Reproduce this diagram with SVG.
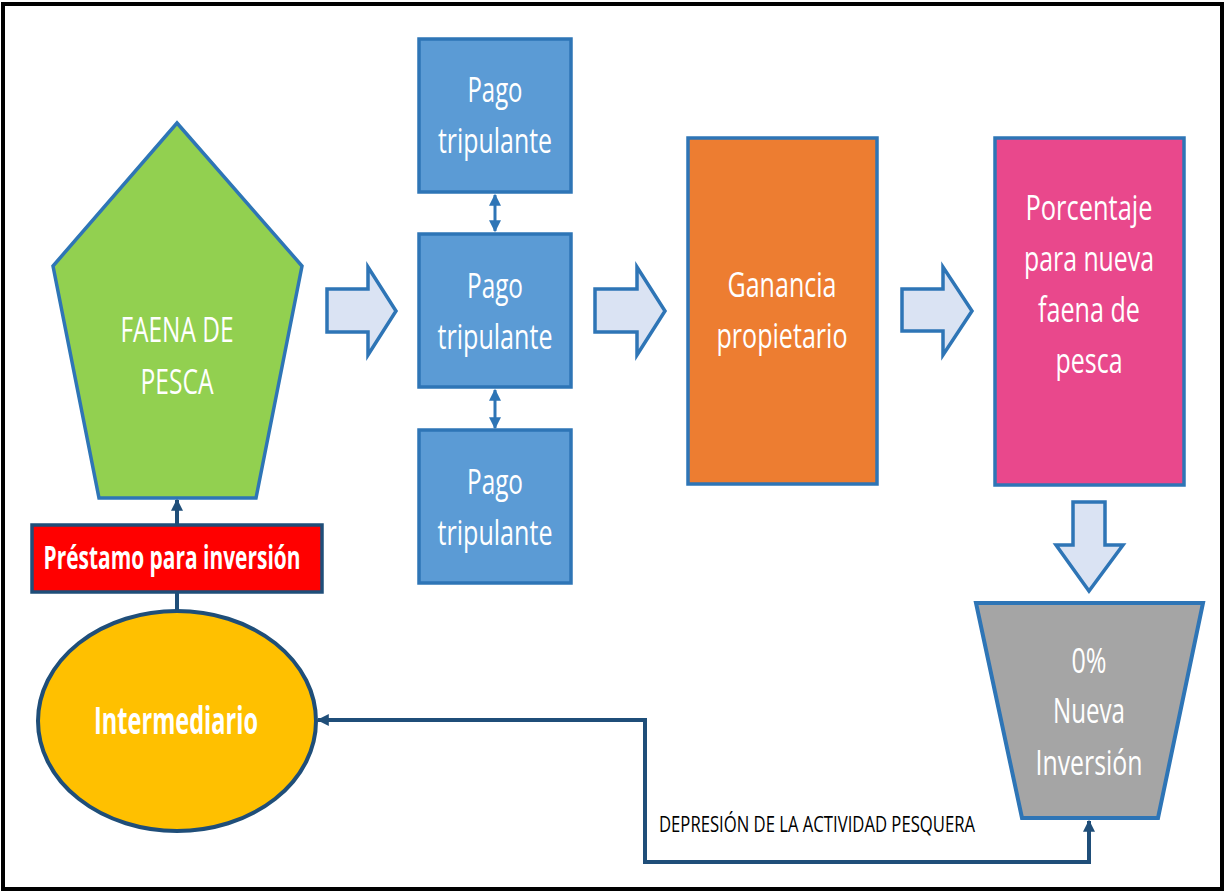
<svg xmlns="http://www.w3.org/2000/svg" width="1225" height="892" viewBox="0 0 1225 892">
<defs>
<style>
.box{stroke:#2E75B6;stroke-width:3.5}
.blk{fill:#DAE3F3;stroke:#2E75B6;stroke-width:3.5;stroke-linejoin:miter}
.t{font-family:"Open Sans","Liberation Sans",sans-serif;font-size:34px;fill:#FFFFFF;text-anchor:middle}
.tb{font-family:"Open Sans","Liberation Sans",sans-serif;font-weight:bold;fill:#FFFFFF;text-anchor:middle}
.lbl{font-family:"Open Sans","Liberation Sans",sans-serif;font-size:21px;fill:#000000;text-anchor:middle}
.con{fill:none;stroke:#1F4E79;stroke-width:4}
.dbl{fill:none;stroke:#2E75B6;stroke-width:3}
</style>
<marker id="ahDark" viewBox="0 0 10 10" refX="9" refY="5" markerWidth="13" markerHeight="12" markerUnits="userSpaceOnUse" orient="auto-start-reverse">
<path d="M0,0 L10,5 L0,10 z" fill="#1F4E79"/>
</marker>
<marker id="ahBlue" viewBox="0 0 10 10" refX="9" refY="5" markerWidth="14" markerHeight="12" markerUnits="userSpaceOnUse" orient="auto-start-reverse">
<path d="M0,0 L10,5 L0,10 z" fill="#2E75B6"/>
</marker>
</defs>
<rect x="3" y="4" width="1219" height="885" fill="#FFFFFF" stroke="#000000" stroke-width="4"/>

<g id="faena">
<polygon points="177,123 302,266 256,498 99,498 53,266" fill="#92D050" stroke="#2E75B6" stroke-width="3.5" stroke-linejoin="miter"/>
<text class="t" x="177" y="342" textLength="113" lengthAdjust="spacingAndGlyphs">FAENA DE</text>
<text class="t" x="177" y="394" textLength="73" lengthAdjust="spacingAndGlyphs">PESCA</text>
</g>

<g id="prestamo">
<rect x="32" y="525" width="290" height="67" fill="#FF0000" stroke="#1F4E79" stroke-width="3.5"/>
<text class="tb" x="172" y="569" font-size="33" textLength="257" lengthAdjust="spacingAndGlyphs">Préstamo para inversión</text>
</g>

<g id="intermediario">
<ellipse cx="177" cy="721" rx="139" ry="110" fill="#FFC000" stroke="#1F4E79" stroke-width="4"/>
<text class="tb" x="176" y="734" font-size="37" textLength="164" lengthAdjust="spacingAndGlyphs">Intermediario</text>
</g>

<g id="pago1">
<rect class="box" x="419" y="39" width="152" height="153" fill="#5B9BD5"/>
<text class="t" x="495" y="102" textLength="55" lengthAdjust="spacingAndGlyphs">Pago</text>
<text class="t" x="495" y="153" textLength="114" lengthAdjust="spacingAndGlyphs">tripulante</text>
</g>
<g id="pago2">
<rect class="box" x="419" y="234" width="152" height="153" fill="#5B9BD5"/>
<text class="t" x="495" y="298" textLength="56" lengthAdjust="spacingAndGlyphs">Pago</text>
<text class="t" x="495" y="349" textLength="115" lengthAdjust="spacingAndGlyphs">tripulante</text>
</g>
<g id="pago3">
<rect class="box" x="419" y="430" width="152" height="153" fill="#5B9BD5"/>
<text class="t" x="495" y="494" textLength="56" lengthAdjust="spacingAndGlyphs">Pago</text>
<text class="t" x="495" y="545" textLength="115" lengthAdjust="spacingAndGlyphs">tripulante</text>
</g>

<g id="ganancia">
<rect class="box" x="688" y="138" width="189" height="346" fill="#ED7D31"/>
<text class="t" x="782" y="297" textLength="109" lengthAdjust="spacingAndGlyphs">Ganancia</text>
<text class="t" x="782" y="348" textLength="131" lengthAdjust="spacingAndGlyphs">propietario</text>
</g>

<g id="porcentaje">
<rect class="box" x="995" y="138" width="189" height="347" fill="#E9488C"/>
<text class="t" x="1089" y="220" textLength="127" lengthAdjust="spacingAndGlyphs">Porcentaje</text>
<text class="t" x="1089" y="271" textLength="130" lengthAdjust="spacingAndGlyphs">para nueva</text>
<text class="t" x="1089" y="322" textLength="102" lengthAdjust="spacingAndGlyphs">faena de</text>
<text class="t" x="1089" y="373" textLength="67" lengthAdjust="spacingAndGlyphs">pesca</text>
</g>

<g id="inversion">
<polygon points="976,603 1203,603 1158,818 1022,818" fill="#A5A5A5" stroke="#2E75B6" stroke-width="4"/>
<text class="t" x="1089" y="673" textLength="35" lengthAdjust="spacingAndGlyphs">0%</text>
<text class="t" x="1089" y="723" textLength="72" lengthAdjust="spacingAndGlyphs">Nueva</text>
<text class="t" x="1089" y="775" textLength="107" lengthAdjust="spacingAndGlyphs">Inversión</text>
</g>

<g id="connectors">
<polygon class="blk" points="327,289 368,289 368,267 396,311 368,355 368,332 327,332"/>
<polygon class="blk" points="595,289 637,289 637,267 665,311 637,355 637,332 595,332"/>
<polygon class="blk" points="902,289 943,289 943,267 972,311 943,355 943,331 902,331"/>
<polygon class="blk" points="1073,502 1105,502 1105,545 1123,545 1089,591 1056,545 1073,545"/>
<path class="dbl" d="M495,195 V231" marker-start="url(#ahBlue)" marker-end="url(#ahBlue)"/>
<path class="dbl" d="M495,390 V428" marker-start="url(#ahBlue)" marker-end="url(#ahBlue)"/>
<path class="con" d="M177,611 V592"/>
<path class="con" d="M177,525 V500" marker-end="url(#ahDark)"/>
<path class="con" d="M1089,821 V862 H645 V720 H318" marker-start="url(#ahDark)" marker-end="url(#ahDark)"/>
<text class="lbl" x="817" y="832" textLength="316" lengthAdjust="spacingAndGlyphs">DEPRESIÓN DE LA ACTIVIDAD  PESQUERA</text>
</g>
</svg>
